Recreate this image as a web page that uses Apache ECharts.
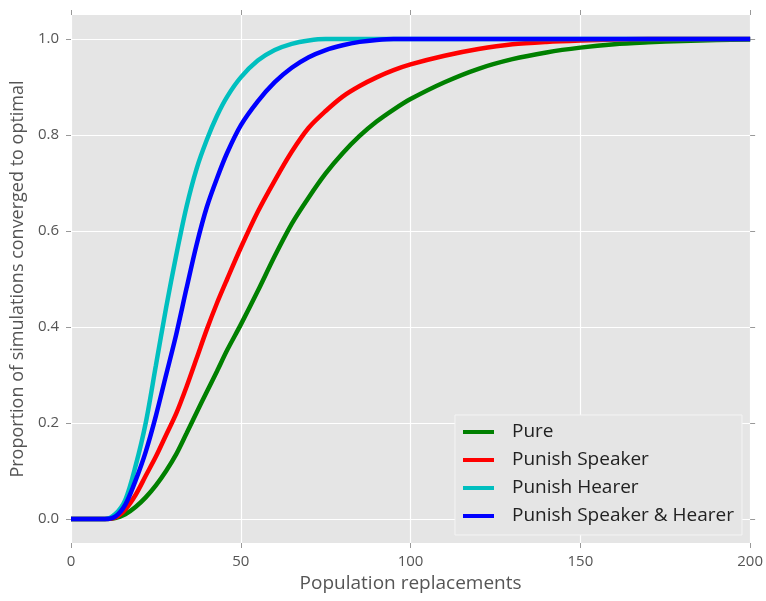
<!DOCTYPE html>
<html>
<head>
<meta charset="utf-8">
<script src="https://cdn.jsdelivr.net/npm/echarts@6/dist/echarts.min.js"></script>
<style>
  html, body { margin: 0; padding: 0; background: #fff; }
  #chart { width: 766px; height: 601px; }
</style>
</head>
<body>
<div id="chart"></div>
<script>
  // population replacements (x) and the share of runs converged for each condition
  const xValues = [0, 10, 13, 16, 19, 22, 25, 28, 31, 34, 37, 40, 43, 46, 50, 55, 60, 65, 70, 75,
    80, 85, 90, 95, 100, 110, 120, 130, 140, 150, 160, 170, 180, 190, 200];
  const pure = [0, 0, 0.002, 0.01, 0.025, 0.045, 0.07, 0.10, 0.135, 0.178, 0.222, 0.265, 0.308, 0.352, 0.405,
    0.475, 0.548, 0.615, 0.67, 0.72, 0.762, 0.798, 0.828, 0.853, 0.875, 0.91, 0.938, 0.958, 0.972, 0.982,
    0.989, 0.993, 0.996, 0.998, 0.999];
  const punishSpeaker = [0, 0, 0.003, 0.02, 0.05, 0.09, 0.13, 0.175, 0.22, 0.275, 0.335, 0.395, 0.45,
    0.50, 0.565, 0.64, 0.705, 0.765, 0.815, 0.85, 0.88, 0.902, 0.92, 0.935, 0.947, 0.965, 0.979, 0.989,
    0.994, 0.997, 0.999, 1, 1, 1, 1];
  const punishHearer = [0, 0, 0.01, 0.04, 0.11, 0.20, 0.32, 0.44, 0.55, 0.65, 0.73, 0.79, 0.84, 0.88,
    0.92, 0.955, 0.977, 0.99, 0.997, 1, 1, 1, 1, 1, 1, 1, 1, 1, 1, 1, 1, 1, 1, 1, 1];
  const punishBoth = [0, 0, 0.005, 0.03, 0.08, 0.14, 0.215, 0.30, 0.385, 0.48, 0.572, 0.65, 0.71, 0.763,
    0.82, 0.87, 0.91, 0.94, 0.962, 0.977, 0.987, 0.994, 0.998, 1, 1, 1, 1, 1, 1, 1, 1, 1, 1, 1, 1];
  const seriesNames = ['Pure', 'Punish Speaker', 'Punish Hearer', 'Punish Speaker & Hearer'];
  const yTicks = [0, 0.2, 0.4, 0.6, 0.8, 1.0];

  const colors = ['#008000', '#FF0000', '#00BFBF', '#0000FF'];
  const font = 'Open Sans';

  let toPairs = function (arr) {
    return xValues.map((x, i) => [x, arr[i]]);
  };

  let makeLine = function (name, arr) {
    return {
      name: name,
      type: 'line',
      data: toPairs(arr),
      showSymbol: false,
      smooth: 0.3,
      lineStyle: { width: 4.5 },
      xAxisIndex: 0,
      yAxisIndex: 0
    };
  };

  let tickStyle = { show: true, inside: false, length: 5, lineStyle: { color: '#999', width: 1 } };
  let hiddenLine = { show: false, onZero: false };

  let option = {
    color: colors,
    animation: false,
    grid: {
      left: 71, top: 15, width: 680, height: 528,
      show: true, backgroundColor: '#E5E5E5', borderWidth: 0
    },
    legend: {
      orient: 'vertical',
      left: 455,
      top: 415,
      padding: [6, 8, 8, 8],
      itemGap: 6,
      itemWidth: 31,
      itemHeight: 4,
      icon: 'rect',
      backgroundColor: '#E5E5E5',
      borderColor: '#F4F4F4',
      borderWidth: 1,
      data: seriesNames,
      textStyle: { fontFamily: font, fontSize: 19, color: '#222', lineHeight: 22, padding: [0, 0, 0, 13] }
    },
    xAxis: [{
      type: 'value', min: 0, max: 200, interval: 50,
      name: 'Population replacements',
      nameLocation: 'middle',
      nameGap: 29,
      nameTextStyle: { fontFamily: font, fontSize: 19, color: '#555' },
      axisLine: hiddenLine,
      axisTick: tickStyle,
      axisLabel: { fontFamily: font, fontSize: 15, color: '#555', margin: 11 },
      splitLine: { show: true, lineStyle: { color: '#fff', width: 1.2 } }
    }, {
      type: 'value', min: 0, max: 200, interval: 50, position: 'top',
      axisLine: hiddenLine,
      axisTick: tickStyle,
      axisLabel: { show: false },
      splitLine: { show: false }
    }],
    yAxis: [{
      type: 'value', min: -0.05, max: 1.05,
      name: 'Proportion of simulations converged to optimal',
      nameLocation: 'middle',
      nameGap: 42,
      nameTextStyle: { fontFamily: font, fontSize: 18, color: '#555' },
      axisLine: hiddenLine,
      axisTick: Object.assign({ customValues: yTicks }, tickStyle),
      axisLabel: {
        customValues: yTicks,
        fontFamily: font, fontSize: 15, color: '#555', margin: 12,
        formatter: function (v) { return v.toFixed(1); }
      },
      splitLine: { show: true, lineStyle: { color: '#fff', width: 1.2 } }
    }, {
      type: 'value', min: -0.05, max: 1.05, position: 'right',
      axisLine: hiddenLine,
      axisTick: Object.assign({ customValues: yTicks }, tickStyle),
      axisLabel: { show: false },
      splitLine: { show: false }
    }],
    series: [
      makeLine(seriesNames[0], pure),
      makeLine(seriesNames[1], punishSpeaker),
      makeLine(seriesNames[2], punishHearer),
      makeLine(seriesNames[3], punishBoth)
    ]
  };

  let chart = echarts.init(document.getElementById('chart'));
  chart.setOption(option);
</script>
</body>
</html>
